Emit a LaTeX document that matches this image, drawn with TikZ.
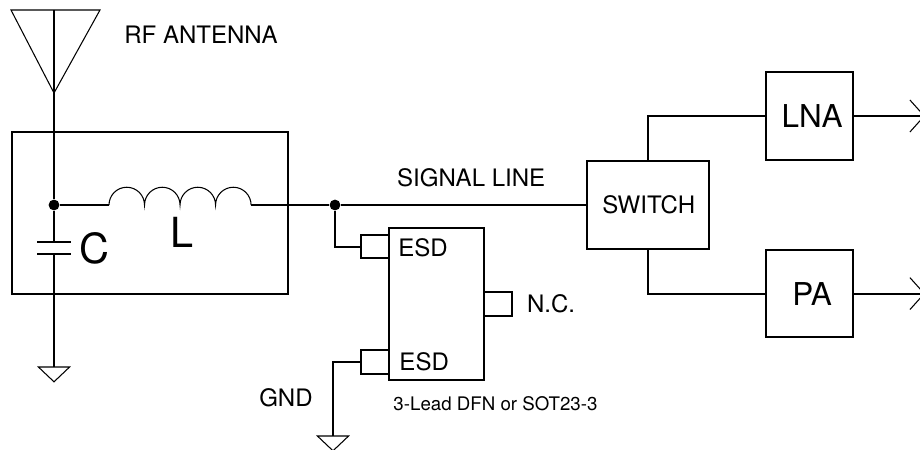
\documentclass[tikz,border=0pt]{standalone}
\usepackage{fontspec}
\setmainfont{TeX Gyre Heros}
\usepackage{tikz}
\tikzset{>=latex}
\usetikzlibrary{arrows.meta}
\tikzset{
    wire/.style={line width=1.5pt},
    thinwire/.style={line width=.75pt},
    block/.style={draw, line width=1.5pt, inner sep=0, outer sep=0},
    pinbox/.style={block, minimum width=.7cm, minimum height=.58cm},
    lab/.style={inner sep=0, font=\fontsize{17.1}{20}\selectfont},
    smalllab/.style={inner sep=0, font=\fontsize{13.3}{16}\selectfont},
    midlab/.style={inner sep=0, font=\fontsize{22.4}{26}\selectfont},
    biglab/.style={inner sep=0, font=\fontsize{29.5}{34}\selectfont},
    junction/.style={circle, fill, inner sep=0, minimum size=.27cm},
    barb/.style={-{Straight Barb[length=.36cm, width=.8cm, line width=.75pt]}},
    gnd/.pic={\draw [thinwire] (-.39, 0) -- (.39, 0) -- (0, -.37) -- cycle;}
}

\begin{document}
\begin{tikzpicture}
    \useasboundingbox (0, 0) rectangle (23, -11.225);
    \coordinate (anttop) at (1.35, -.25);
    \coordinate (antapex) at (1.35, -2.325);
    \coordinate (captop) at (1.35, -6.05);
    \coordinate (capbot) at (1.35, -6.35);
    \coordinate (gndc) at (1.35, -9.175);
    \coordinate (gndb) at (8.325, -10.9);
    \coordinate (coilin) at (2.725, -5.125);
    \coordinate (coilout) at (6.275, -5.125);
    \coordinate (lnaout) at (23.125, -2.875);
    \coordinate (paout) at (23.125, -7.35);

    \draw [thinwire] (.275, -.25) -- (2.5, -.25) -- (antapex) -- cycle;
    \node [lab, anchor=west] (rflabel) at (3.1, -.875) {RF ANTENNA};

    \node [block, minimum width=6.9cm, minimum height=4.05cm] (filter) at (3.75, -5.325) {};
    \node [junction] (capdot) at (1.35, -5.125) {};
    \node [junction] (linedot) at (8.375, -5.125) {};
    \draw [wire] (anttop) -- (capdot) -- (captop);
    \draw [wire] (capbot) -- (gndc);
    \draw [wire] (.925, -6.05) -- (1.775, -6.05);
    \draw [wire] (.925, -6.35) -- (1.775, -6.35);
    \pic at (gndc) {gnd};
    \draw [wire] (capdot) -- (coilin);
    \draw [thinwire] (coilin) \foreach \i in {1, ..., 4} {arc (180:0:.444)};
    \draw [wire] (coilout) -- (linedot);
    \node [biglab] (clabel) at (2.35, -6.2) {C};
    \node [biglab] (llabel) at (4.55, -5.82) {L};

    \node [block, minimum width=3.05cm, minimum height=2.2cm] (switch) at (16.2, -5.125) {};
    \node [lab] (switchlabel) at (16.22, -5.125) {SWITCH};
    \draw [wire] (linedot) -- (switch.west);
    \node [lab] (signallabel) at (11.78, -4.45) {SIGNAL LINE};

    \node [block, minimum width=2.375cm, minimum height=3.8cm] (chip) at (10.91, -7.6) {};
    \node [pinbox, anchor=east] (pina) at (chip.west |- 0, -6.165) {};
    \node [pinbox, anchor=west] (pinc) at (chip.east |- 0, -7.6) {};
    \node [pinbox, anchor=east] (pinb) at (chip.west |- 0, -9.05) {};
    \node [lab, anchor=west] (esda) at (9.95, -6.2) {ESD};
    \node [lab, anchor=west] (esdb) at (9.98, -9.05) {ESD};
    \node [lab, anchor=west] (nclabel) at (13.17, -7.6) {N.C.};
    \node [smalllab, anchor=west] (pkglabel) at (9.83, -10.08) {3-Lead DFN or SOT23-3};
    \node [lab] (gndlabel) at (7.15, -9.95) {GND};
    \draw [wire] (linedot) |- (pina.west);
    \draw [wire] (pinb.west) -| (gndb);
    \pic at (gndb) {gnd};

    \node [block, minimum width=2.175cm, minimum height=2.2cm] (lna) at (20.24, -2.9) {};
    \node [midlab] (lnalabel) at (20.3, -2.9) {LNA};
    \node [block, minimum width=2.175cm, minimum height=2.175cm] (pa) at (20.24, -7.34) {};
    \node [midlab] (palabel) at (20.3, -7.35) {PA};
    \draw [wire] (switch.north) |- (lna.west);
    \draw [wire] (switch.south) |- (pa.west);
    \draw [wire, barb] (lna.east) -- (lnaout |- lna.east);
    \draw [wire, barb] (pa.east) -- (paout |- pa.east);
\end{tikzpicture}
\end{document}
